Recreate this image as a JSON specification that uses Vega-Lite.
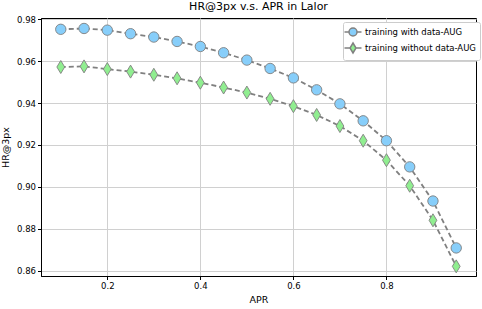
{
  "$schema": "https://vega.github.io/schema/vega-lite/v6.json",
  "width": 435,
  "height": 258,
  "autosize": "none",
  "padding": {"left": 41, "top": 18, "right": 6, "bottom": 33},
  "background": "white",
  "title": {"text": "HR@3px v.s. APR in Lalor", "fontSize": 11, "fontWeight": "normal", "font": "DejaVu Sans", "color": "black", "offset": 3},
  "config": {
    "font": "DejaVu Sans",
    "view": {"stroke": "black", "strokeWidth": 1},
    "axis": {"domainColor": "black", "tickColor": "black", "tickSize": 3.5, "labelFontSize": 8.5, "labelColor": "black", "titleFontSize": 9.5, "titleFontWeight": "normal", "titleColor": "black", "gridColor": "#d0d0d0", "gridWidth": 1}
  },
  "data": {"values": [
    {"apr": 0.10, "hr": 0.9752, "series": "training with data-AUG"},
    {"apr": 0.15, "hr": 0.9756, "series": "training with data-AUG"},
    {"apr": 0.20, "hr": 0.9748, "series": "training with data-AUG"},
    {"apr": 0.25, "hr": 0.9731, "series": "training with data-AUG"},
    {"apr": 0.30, "hr": 0.9715, "series": "training with data-AUG"},
    {"apr": 0.35, "hr": 0.9694, "series": "training with data-AUG"},
    {"apr": 0.40, "hr": 0.9670, "series": "training with data-AUG"},
    {"apr": 0.45, "hr": 0.9640, "series": "training with data-AUG"},
    {"apr": 0.50, "hr": 0.9605, "series": "training with data-AUG"},
    {"apr": 0.55, "hr": 0.9565, "series": "training with data-AUG"},
    {"apr": 0.60, "hr": 0.9520, "series": "training with data-AUG"},
    {"apr": 0.65, "hr": 0.9463, "series": "training with data-AUG"},
    {"apr": 0.70, "hr": 0.9396, "series": "training with data-AUG"},
    {"apr": 0.75, "hr": 0.9315, "series": "training with data-AUG"},
    {"apr": 0.80, "hr": 0.9220, "series": "training with data-AUG"},
    {"apr": 0.85, "hr": 0.9095, "series": "training with data-AUG"},
    {"apr": 0.90, "hr": 0.8932, "series": "training with data-AUG"},
    {"apr": 0.95, "hr": 0.8708, "series": "training with data-AUG"},
    {"apr": 0.10, "hr": 0.9572, "series": "training without data-AUG"},
    {"apr": 0.15, "hr": 0.9575, "series": "training without data-AUG"},
    {"apr": 0.20, "hr": 0.9562, "series": "training without data-AUG"},
    {"apr": 0.25, "hr": 0.9550, "series": "training without data-AUG"},
    {"apr": 0.30, "hr": 0.9535, "series": "training without data-AUG"},
    {"apr": 0.35, "hr": 0.9518, "series": "training without data-AUG"},
    {"apr": 0.40, "hr": 0.9497, "series": "training without data-AUG"},
    {"apr": 0.45, "hr": 0.9474, "series": "training without data-AUG"},
    {"apr": 0.50, "hr": 0.9450, "series": "training without data-AUG"},
    {"apr": 0.55, "hr": 0.9420, "series": "training without data-AUG"},
    {"apr": 0.60, "hr": 0.9385, "series": "training without data-AUG"},
    {"apr": 0.65, "hr": 0.9343, "series": "training without data-AUG"},
    {"apr": 0.70, "hr": 0.9290, "series": "training without data-AUG"},
    {"apr": 0.75, "hr": 0.9220, "series": "training without data-AUG"},
    {"apr": 0.80, "hr": 0.9127, "series": "training without data-AUG"},
    {"apr": 0.85, "hr": 0.9005, "series": "training without data-AUG"},
    {"apr": 0.90, "hr": 0.8840, "series": "training without data-AUG"},
    {"apr": 0.95, "hr": 0.8620, "series": "training without data-AUG"}
  ]},
  "encoding": {
    "x": {"field": "apr", "type": "quantitative", "title": "APR",
      "scale": {"domain": [0.0575, 0.9925], "nice": false, "zero": false},
      "axis": {"values": [0.2, 0.4, 0.6, 0.8], "format": ".1f", "titlePadding": 4, "labelPadding": 2}},
    "y": {"field": "hr", "type": "quantitative", "title": "HR@3px",
      "scale": {"domain": [0.8574, 0.9806], "nice": false, "zero": false},
      "axis": {"values": [0.86, 0.88, 0.90, 0.92, 0.94, 0.96, 0.98], "format": ".2f", "titlePadding": 6, "labelPadding": 2}}
  },
  "layer": [
    {
      "mark": {"type": "line", "color": "#808080", "strokeWidth": 1.8, "strokeDash": [5, 3]},
      "encoding": {"detail": {"field": "series", "type": "nominal"}}
    },
    {
      "transform": [{"filter": "datum.series === 'training with data-AUG'"}],
      "mark": {"type": "point", "filled": true, "opacity": 1, "size": 169, "stroke": "#808080", "strokeWidth": 0.9, "shape": "M-0.8,0A0.8,0.8 0 1,1 0.8,0A0.8,0.8 0 1,1 -0.8,0Z"},
      "encoding": {
        "color": {"field": "series", "type": "nominal",
          "scale": {"domain": ["training with data-AUG", "training without data-AUG"], "range": ["#87CEFA", "#90EE90"]}}
      }
    },
    {
      "transform": [{"filter": "datum.series === 'training without data-AUG'"}],
      "mark": {"type": "point", "filled": true, "opacity": 1, "size": 169, "stroke": "#808080", "strokeWidth": 0.9, "shape": "M0,-1L0.6,0L0,1L-0.6,0Z"},
      "encoding": {
        "color": {"field": "series", "type": "nominal"}
      }
    },
    {
      "transform": [{"filter": "false"}],
      "mark": {"type": "point", "filled": true, "opacity": 1, "size": 110, "stroke": "#808080", "strokeWidth": 1},
      "encoding": {
        "color": {"field": "series", "type": "nominal",
          "legend": {"title": null, "orient": "none", "legendX": 302, "legendY": 4, "labelFontSize": 8.5, "labelColor": "black", "padding": 4, "strokeColor": "#cccccc", "fillColor": "white", "cornerRadius": 2, "rowPadding": 1, "labelOffset": 6}},
        "shape": {"field": "series", "type": "nominal",
          "scale": {"domain": ["training with data-AUG", "training without data-AUG"], "range": ["M-1.7,0H-0.8M0.8,0H1.7M-0.8,0A0.8,0.8 0 1,1 0.8,0A0.8,0.8 0 1,1 -0.8,0Z", "M-1.7,0H-0.6M0.6,0H1.7M0,-1L0.6,0L0,1L-0.6,0Z"]},
          "legend": {"title": null, "orient": "none", "legendX": 302, "legendY": 4, "labelFontSize": 8.5, "labelColor": "black", "padding": 4, "strokeColor": "#cccccc", "fillColor": "white", "cornerRadius": 2, "rowPadding": 1, "labelOffset": 6}}
      }
    }
  ]
}
